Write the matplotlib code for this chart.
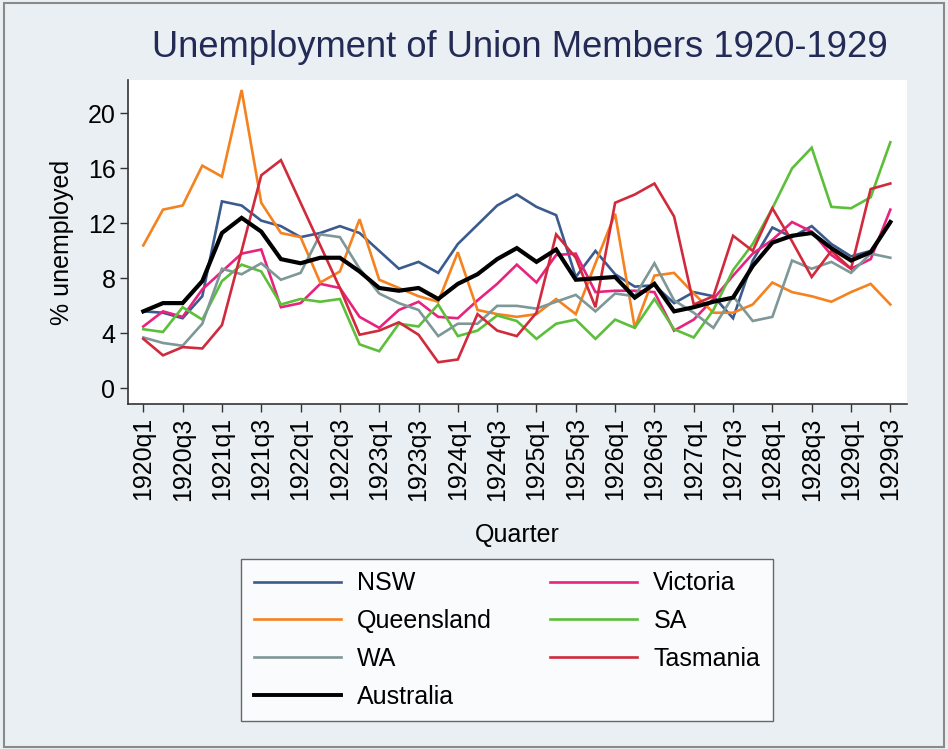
import matplotlib
matplotlib.use("Agg")
import matplotlib.pyplot as plt
from matplotlib.patches import Rectangle

plt.rcParams['font.family'] = ['Liberation Sans', 'DejaVu Sans']

quarters = [f"{y}q{q}" for y in range(1920, 1930) for q in range(1, 5)][:39]

nsw = [5.6, 5.5, 5.1, 6.7, 13.6, 13.3, 12.2, 11.8, 11.0, 11.3, 11.8, 11.3, 10.0, 8.7, 9.2, 8.4,
       10.5, 11.9, 13.3, 14.1, 13.2, 12.6, 8.1, 10.0, 8.3, 7.4, 7.5, 6.2, 7.0, 6.7, 5.1, 9.3,
       11.7, 11.0, 11.8, 10.5, 9.6, 10.0, 12.0]
victoria = [4.5, 5.6, 5.2, 7.2, 8.5, 9.8, 10.1, 5.9, 6.2, 7.6, 7.3, 5.2, 4.4, 5.7, 6.3, 5.2,
            5.1, 6.4, 7.6, 9.0, 7.7, 9.7, 9.8, 7.0, 7.1, 7.1, 7.0, 4.2, 5.0, 6.5, 8.2, 9.8,
            10.8, 12.1, 11.4, 9.7, 8.7, 9.4, 13.0]
queensland = [10.4, 13.0, 13.3, 16.2, 15.4, 21.7, 13.5, 11.3, 11.0, 7.7, 8.5, 12.3, 7.9, 7.3, 6.7, 6.3,
              9.9, 5.7, 5.4, 5.2, 5.4, 6.5, 5.4, 9.1, 12.7, 4.4, 8.2, 8.4, 6.9, 5.5, 5.5, 6.1,
              7.7, 7.0, 6.7, 6.3, 7.0, 7.6, 6.1]
sa = [4.3, 4.1, 5.9, 5.0, 7.8, 9.0, 8.5, 6.1, 6.5, 6.3, 6.5, 3.2, 2.7, 4.7, 4.5, 6.1,
      3.8, 4.2, 5.3, 4.9, 3.6, 4.7, 5.0, 3.6, 5.0, 4.4, 6.5, 4.3, 3.7, 5.7, 8.6, 10.5,
      13.1, 16.0, 17.5, 13.2, 13.1, 13.9, 17.9]
wa = [3.7, 3.3, 3.1, 4.7, 8.7, 8.3, 9.1, 7.9, 8.4, 11.2, 11.0, 8.7, 6.9, 6.2, 5.7, 3.8,
      4.7, 4.7, 6.0, 6.0, 5.8, 6.3, 6.8, 5.6, 6.9, 6.7, 9.1, 6.4, 5.5, 4.4, 6.7, 4.9,
      5.2, 9.3, 8.7, 9.2, 8.4, 9.8, 9.5]
tasmania = [3.6, 2.4, 3.0, 2.9, 4.6, 10.0, 15.5, 16.6, 13.5, 10.4, 7.3, 3.9, 4.2, 4.8, 3.9, 1.9,
            2.1, 5.4, 4.2, 3.8, 5.5, 11.2, 9.5, 5.9, 13.5, 14.1, 14.9, 12.5, 6.1, 6.7, 11.1, 10.0,
            13.1, 10.7, 8.1, 10.0, 8.7, 14.5, 14.9]
australia = [5.6, 6.2, 6.2, 7.8, 11.3, 12.4, 11.4, 9.4, 9.1, 9.5, 9.5, 8.5, 7.3, 7.1, 7.3, 6.5,
             7.6, 8.3, 9.4, 10.2, 9.2, 10.1, 7.9, 8.0, 8.1, 6.6, 7.6, 5.6, 5.9, 6.3, 6.6, 8.9,
             10.6, 11.1, 11.3, 10.2, 9.3, 9.9, 12.1]

series = [
    ("NSW", nsw, "#3b5b8f", 1.9),
    ("Victoria", victoria, "#e8237f", 1.9),
    ("Queensland", queensland, "#f5821f", 1.9),
    ("SA", sa, "#5cbf3a", 1.9),
    ("WA", wa, "#7e9797", 1.9),
    ("Tasmania", tasmania, "#d02a3c", 1.9),
    ("Australia", australia, "#000000", 3.0),
]

fig = plt.figure(figsize=(9.48, 7.49), dpi=100)
fig.patch.set_facecolor("#e9eff3")
fig.patches.append(Rectangle((0.004, 0.003), 0.992, 0.993, transform=fig.transFigure,
                             fill=False, edgecolor="#8a8a8a", linewidth=1.5))

ax = fig.add_axes([0.135, 0.4606, 0.822, 0.4324])
ax.set_facecolor("white")

x = list(range(len(quarters)))
handles = {}
for name, vals, col, lw in series:
    (h,) = ax.plot(x, vals, color=col, linewidth=lw, solid_joinstyle='miter')
    handles[name] = h

ax.set_xlim(-0.78, 38.86)
ax.set_ylim(-1.14, 22.42)
ax.set_yticks([0, 4, 8, 12, 16, 20])
ax.set_xticks(x[::2])
ax.set_xticklabels(quarters[::2], rotation=90)
ax.tick_params(axis='both', labelsize=18, length=6, width=1, color="#333333", direction='out')
ax.tick_params(axis='y', pad=3)
for s in ["top", "right"]:
    ax.spines[s].set_visible(False)
for s in ["left", "bottom"]:
    ax.spines[s].set_color("#333333")
    ax.spines[s].set_linewidth(1.2)

ax.set_ylabel("% unemployed", fontsize=18, labelpad=10)
ax.set_xlabel("Quarter", fontsize=18, labelpad=16)

fig.text(0.548, 0.937, "Unemployment of Union Members 1920-1929", ha='center', va='center',
         fontsize=26.2, color="#222a55")

order = ["NSW", "Queensland", "WA", "Australia", "Victoria", "SA", "Tasmania"]
leg = fig.legend([handles[n] for n in order], order, loc='center left',
                 bbox_to_anchor=(241 / 948, 0.1455), borderaxespad=0,
                 ncol=2, fontsize=18, frameon=True, fancybox=False, handlelength=3.5,
                 columnspacing=2.3, labelspacing=0.55, handletextpad=0.65, borderpad=0.5)
leg.get_frame().set_edgecolor("#444444")
leg.get_frame().set_linewidth(1.0)
leg.get_frame().set_facecolor("white")
for lh in leg.legend_handles:
    lh.set_linewidth(1.9)
leg.legend_handles[3].set_linewidth(2.8)

fig.savefig("out.png", dpi=100, facecolor=fig.get_facecolor())
